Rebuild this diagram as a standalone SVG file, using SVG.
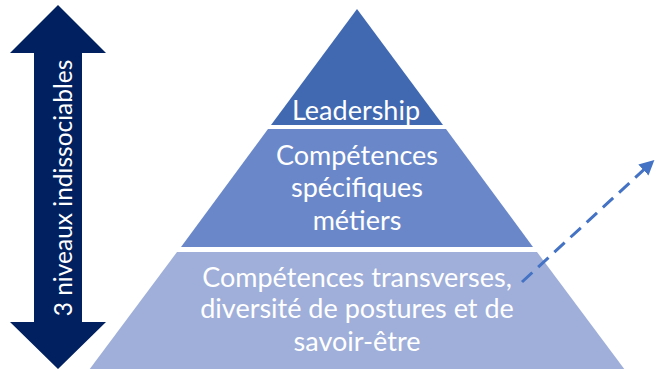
<svg xmlns="http://www.w3.org/2000/svg" width="656" height="369" viewBox="0 0 656 369">
  <style>
    .lbl { font-family: Lato, "Open Sans", sans-serif; fill: #ffffff; text-anchor: middle; font-size: 27px; }
    .side { font-size: 24.5px; }
  </style>
  <defs>
    <marker id="head" viewBox="0 0 10 10" refX="6" refY="5" markerWidth="5" markerHeight="5" orient="auto" markerUnits="strokeWidth">
      <path d="M0,0 L10,5 L0,10 Z" fill="#4472C4"/>
    </marker>
  </defs>
  <rect width="656" height="369" fill="#ffffff"/>

  <!-- double-headed vertical arrow -->
  <g id="niveaux">
    <path d="M58,5 L106,53 L82,53 L82,322 L106,322 L58,369 L10,322 L34,322 L34,53 L10,53 Z" fill="#002060"/>
    <text class="lbl side" transform="translate(72,188) rotate(-90)">3 niveaux indissociables</text>
  </g>

  <!-- pyramid tiers -->
  <g id="leadership">
    <path d="M357,9 L443,125 L271,125 Z" fill="#4169B2"/>
    <text class="lbl" x="356" y="120">Leadership</text>
  </g>
  <g id="metiers">
    <path d="M268,129 L446,129 L533,247 L181,247 Z" fill="#6A88C9"/>
    <text class="lbl" x="357" y="165">Compétences</text>
    <text class="lbl" x="357" y="197">spécifiques</text>
    <text class="lbl" x="357" y="230">métiers</text>
  </g>
  <g id="transverses">
    <path d="M177,252 L537,252 L625,370 L89,370 Z" fill="#9FAFD9"/>
    <text class="lbl" x="357" y="287">Compétences transverses,</text>
    <text class="lbl" x="357" y="318">diversité de postures et de</text>
    <text class="lbl" x="357" y="351">savoir-être</text>
  </g>

  <!-- connectors -->
  <g id="connectors">
    <line x1="522" y1="282" x2="650" y2="164" stroke="#4472C4" stroke-width="3" stroke-dasharray="14,8" marker-end="url(#head)"/>
  </g>
</svg>
